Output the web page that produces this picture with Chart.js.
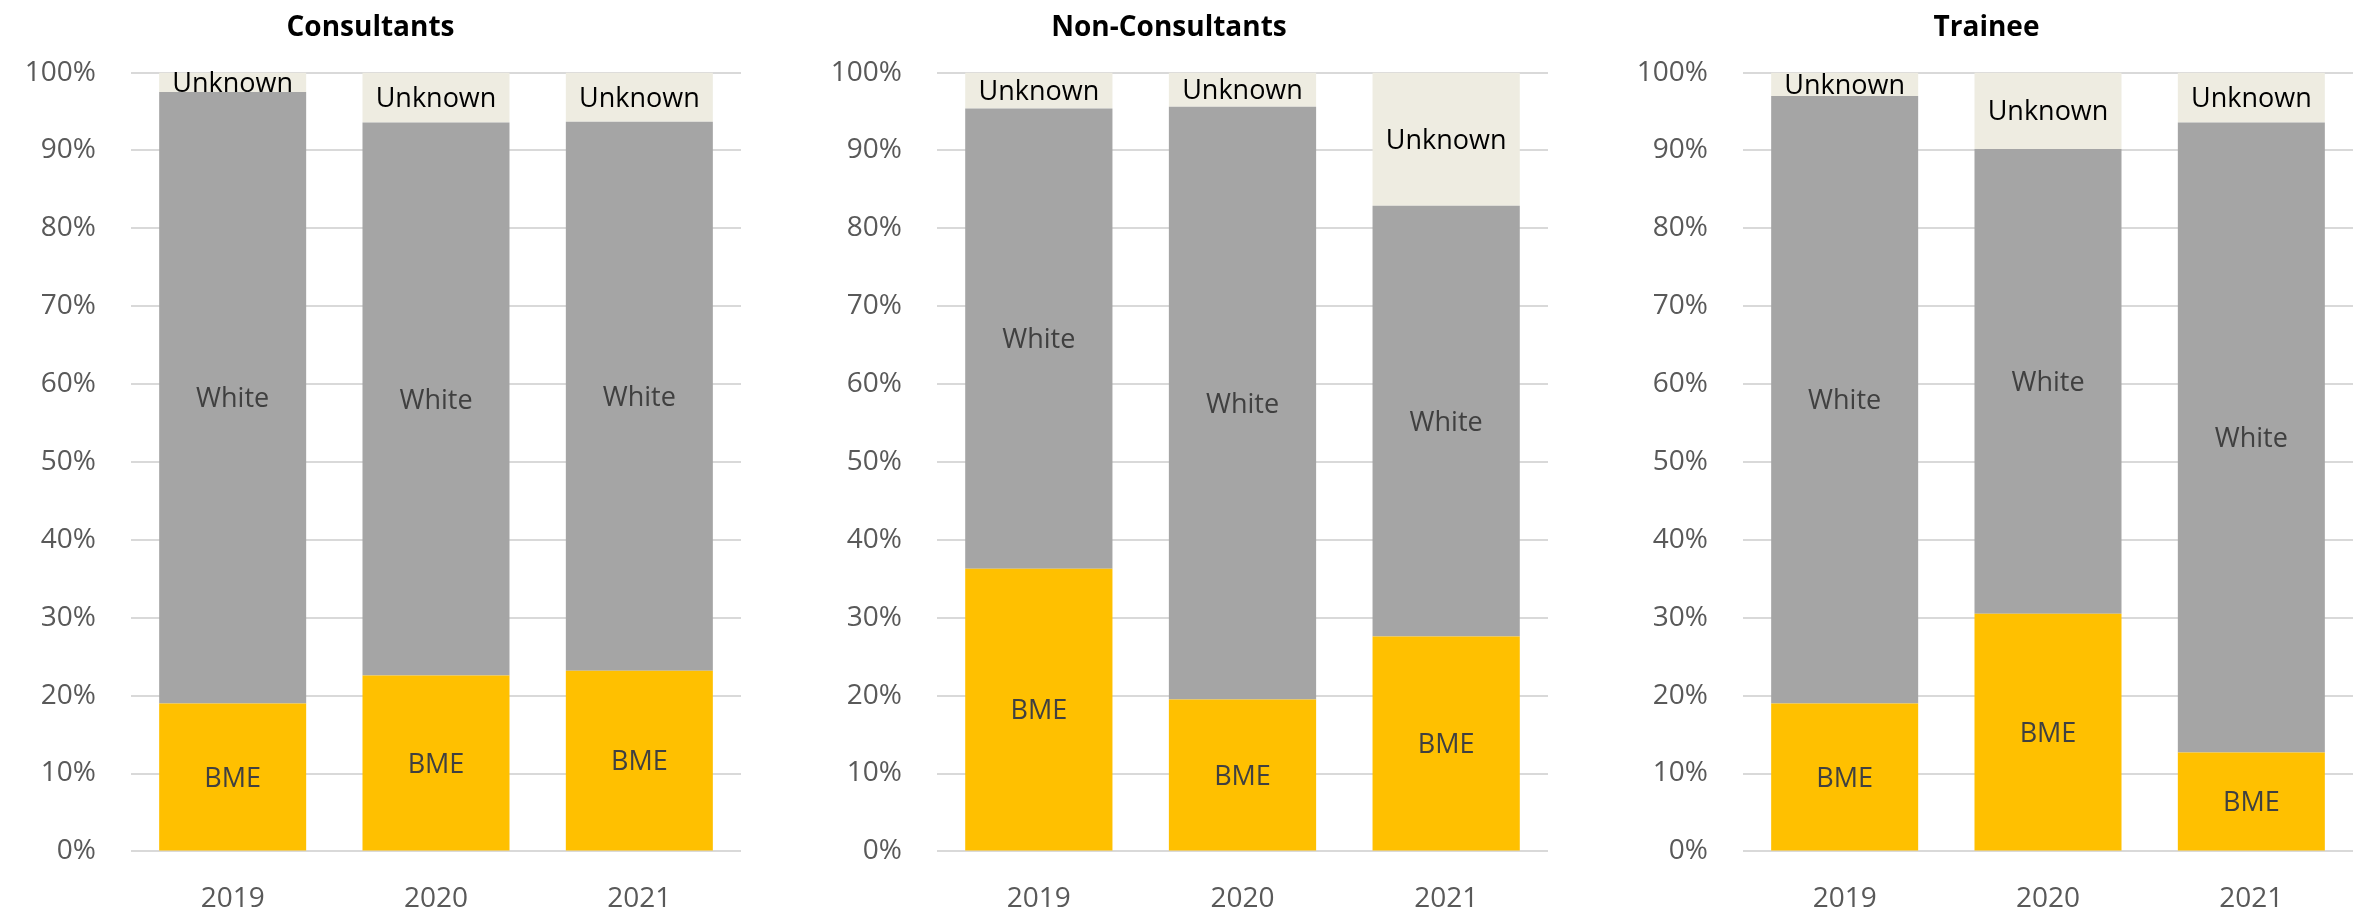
<!DOCTYPE html>
<html>
<head>
<meta charset="utf-8">
<script src="https://cdn.jsdelivr.net/npm/chart.js@4.4.1/dist/chart.umd.min.js"></script>
<style>
	html, body { margin: 0; padding: 0; background: #ffffff; overflow: hidden; width: 2357px; height: 911px; }
	.chart-box { position: absolute; top: 0; height: 947px; }
</style>
</head>
<body>
<div class="chart-box" id="box-consultants" style="left: 0px; width: 852px;"><canvas id="chart-consultants"></canvas></div>
<div class="chart-box" id="box-nonconsultants" style="left: 790px; width: 877px;"><canvas id="chart-nonconsultants"></canvas></div>
<div class="chart-box" id="box-trainee" style="left: 1620px; width: 819px;"><canvas id="chart-trainee"></canvas></div>
<script>
const years = ["2019", "2020", "2021"];
const seriesNames = ["BME", "White", "Unknown"];
const yTickLabels = ["0%", "10%", "20%", "30%", "40%", "50%", "60%", "70%", "80%", "90%", "100%"];

// shares in percent
const consultantsBME = [19.0, 22.6, 23.2];
const consultantsWhite = [78.5, 71.0, 70.5];
const consultantsUnknown = [2.5, 6.4, 6.3];

const nonConsultantsBME = [36.3, 19.5, 27.6];
const nonConsultantsWhite = [59.1, 76.1, 55.3];
const nonConsultantsUnknown = [4.6, 4.4, 17.1];

const traineeBME = [19.0, 30.5, 12.7];
const traineeWhite = [78.0, 59.7, 80.9];
const traineeUnknown = [3.0, 9.8, 6.4];

const fontFamily = "'Open Sans', 'Noto Sans', sans-serif";
const seriesColors = ["#FFC000", "#A5A5A5", "#EEECE1"];
const labelColors = ["#404040", "#404040", "#000000"];

// draws the series name in the middle of each bar segment
const segmentLabels = {
	id: "segmentLabels",
	afterDatasetsDraw(chart)
	{
		const ctx = chart.ctx;
		ctx.save();
		ctx.font = "27px " + fontFamily;
		ctx.textAlign = "center";
		ctx.textBaseline = "middle";
		chart.data.datasets.forEach((dataset, i) =>
		{
			const meta = chart.getDatasetMeta(i);
			ctx.fillStyle = labelColors[i];
			for(let bar of meta.data)
			{
				const props = bar.getProps(["x", "y", "base"], true);
				ctx.fillText(dataset.label, props.x, (props.y + props.base) / 2 + 2);
			}
		});
		ctx.restore();
	}
};

function makeChart(canvasId, title, bme, white, unknown, axisWidth, rightPad)
{
	const values = [bme, white, unknown];
	return new Chart(document.getElementById(canvasId).getContext("2d"),
	{
		type: "bar",
		data:
		{
			labels: years,
			datasets: seriesNames.map((name, i) => ({
				label: name,
				data: values[i],
				backgroundColor: seriesColors[i],
				borderWidth: 0,
				barPercentage: 0.723,
				categoryPercentage: 1
			}))
		},
		options:
		{
			responsive: true,
			maintainAspectRatio: false,
			animation: false,
			layout: { padding: { left: 0, right: rightPad, top: 0, bottom: 0 } },
			plugins:
			{
				legend: { display: false },
				tooltip: { enabled: false },
				title:
				{
					display: true,
					text: title,
					color: "#000000",
					font: { family: fontFamily, size: 28, weight: "bold" },
					padding: { top: 11, bottom: 28 }
				}
			},
			scales:
			{
				x:
				{
					stacked: true,
					grid: { display: false, drawTicks: false },
					border: { display: false },
					ticks: { color: "#595959", font: { family: fontFamily, size: 28 }, padding: 31 }
				},
				y:
				{
					stacked: true,
					min: 0,
					max: 100,
					afterFit: (scale) => { scale.width = axisWidth; },
					grid: { color: "#D9D9D9", lineWidth: 2, drawTicks: false },
					border: { display: false },
					ticks:
					{
						stepSize: 10,
						color: "#595959",
						padding: 35,
						font: { family: fontFamily, size: 28 },
						callback: (value) => yTickLabels[Math.round(value / 10)]
					}
				}
			}
		},
		plugins: [segmentLabels]
	});
}

makeChart("chart-consultants", "Consultants", consultantsBME, consultantsWhite, consultantsUnknown, 131, 111);
makeChart("chart-nonconsultants", "Non-Consultants", nonConsultantsBME, nonConsultantsWhite, nonConsultantsUnknown, 147, 119);
makeChart("chart-trainee", "Trainee", traineeBME, traineeWhite, traineeUnknown, 123, 86);
</script>
</body>
</html>
